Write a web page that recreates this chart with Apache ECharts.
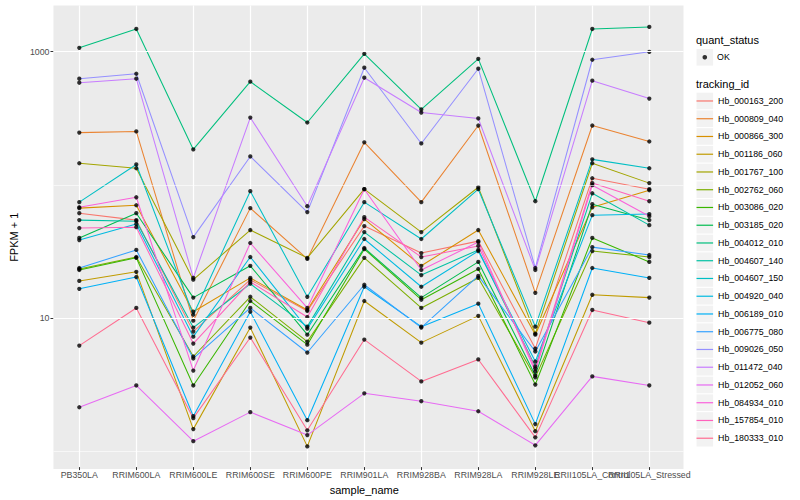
<!DOCTYPE html>
<html><head><meta charset="utf-8">
<script src="https://cdn.jsdelivr.net/npm/echarts@6/dist/echarts.min.js"></script>
<style>html,body{margin:0;padding:0;background:#fff}#chart{width:800px;height:500px}</style>
</head><body><div id="chart"></div>
<script>
// ---- data ----
const categories = ['PB350LA','RRIM600LA','RRIM600LE','RRIM600SE','RRIM600PE','RRIM901LA','RRIM928BA','RRIM928LA','RRIM928LE','RRII105LA_Control','RRII105LA_Stressed'];
const trackingIds = ['Hb_000163_200','Hb_000809_040','Hb_000866_300','Hb_001186_060','Hb_001767_100','Hb_002762_060','Hb_003086_020','Hb_003185_020','Hb_004012_010','Hb_004607_140','Hb_004607_150','Hb_004920_040','Hb_006189_010','Hb_006775_080','Hb_009026_050','Hb_011472_040','Hb_012052_060','Hb_084934_010','Hb_157854_010','Hb_180333_010'];
// FPKM + 1 per sample (order of categories)
const hb_000163_200 = [60.5, 53.7, 7.76, 19.1, 11.1, 48.4, 30.3, 37.3, 5.78, 111, 91.8];
const hb_000809_040 = [245, 250, 9.38, 66.1, 27.4, 207, 73.3, 277, 15.2, 277, 210];
const hb_000866_300 = [66.1, 69.5, 10.96, 19.7, 11.3, 54.6, 24.3, 45.2, 7.36, 67.1, 90.2];
const hb_001186_060 = [18.7, 21.9, 1.43, 8.32, 1.06, 13.2, 6.41, 10.2, 1.38, 14.7, 14.0];
const hb_001767_100 = [144, 132, 19.1, 45.2, 27.9, 91.8, 43.6, 95.0, 7.50, 144, 102];
const hb_002762_060 = [23.0, 28.3, 5.04, 14.2, 6.53, 27.9, 11.7, 19.7, 3.51, 31.4, 28.3];
const hb_003086_020 = [22.6, 27.9, 3.05, 13.2, 6.19, 32.5, 13.5, 23.0, 3.10, 39.4, 26.0];
const hb_003185_020 = [39.4, 60.5, 14.0, 24.3, 7.36, 33.1, 14.0, 26.0, 3.63, 70.8, 53.7];
const hb_004012_010 = [1066, 1479, 183, 593, 292, 961, 366, 881, 74.5, 1479, 1532];
const hb_004607_140 = [53.7, 52.7, 8.32, 17.8, 8.46, 43.6, 20.7, 32.0, 4.24, 85.5, 49.2];
const hb_004607_150 = [73.3, 141, 10.4, 88.7, 14.2, 73.3, 38.7, 91.8, 8.46, 154, 132];
const hb_004920_040 = [38.0, 50.1, 7.11, 28.3, 8.17, 38.7, 16.9, 31.4, 4.62, 58.5, 59.6];
const hb_006189_010 = [16.3, 20.0, 1.79, 10.96, 1.67, 16.9, 8.46, 12.6, 1.56, 23.4, 19.7];
const hb_006775_080 = [23.4, 32.0, 4.87, 11.7, 5.40, 17.5, 8.32, 20.4, 5.50, 33.6, 29.3];
const hb_009026_050 = [624, 680, 40.0, 162, 61.7, 755, 203, 742, 23.4, 867, 995];
const hb_011472_040 = [582, 624, 19.7, 318, 68.4, 635, 347, 313, 22.6, 603, 442];
const hb_012052_060 = [2.09, 3.05, 1.16, 1.92, 1.29, 2.66, 2.32, 1.95, 1.08, 3.57, 3.05];
const hb_084934_010 = [67.1, 79.8, 3.95, 36.1, 11.7, 91.8, 22.6, 36.7, 3.89, 98.4, 57.5];
const hb_157854_010 = [46.8, 47.5, 6.31, 18.4, 10.0, 56.5, 28.3, 34.3, 4.09, 102, 74.5];
const hb_180333_010 = [6.09, 11.7, 1.73, 7.00, 1.40, 6.76, 3.27, 4.79, 1.24, 11.3, 9.06];
const seriesValues = [hb_000163_200, hb_000809_040, hb_000866_300, hb_001186_060, hb_001767_100,
  hb_002762_060, hb_003086_020, hb_003185_020, hb_004012_010, hb_004607_140, hb_004607_150,
  hb_004920_040, hb_006189_010, hb_006775_080, hb_009026_050, hb_011472_040, hb_012052_060,
  hb_084934_010, hb_157854_010, hb_180333_010];
const yTickLabels = [10, 1000];     // major breaks (labelled)
const yMinorBreaks = [1, 100];      // minor breaks
const statusLabels = ['OK'];

// ---- style ----
const palette = ['#F8766D','#EA8331','#D89000','#C09B00','#A3A500','#7CAE00','#39B600','#00BB4E','#00BF7D','#00C1A3','#00BFC4','#00BAE0','#00B0F6','#35A2FF','#9590FF','#C77CFF','#E76BF3','#FA62DB','#FF62BC','#FF6C91'];
const font = '"Liberation Sans", Arial, Helvetica, sans-serif';
const yMin = 0.74, yMax = 2222;
const panel = {left: 45.1, top: 5.5, width: 638.4, height: 463.5};
const dataGrid = {left: 79.3, top: 5.5, width: 570, height: 463.5};
const legendTop = 92.1, legendStep = 17.75;

const chart = echarts.init(document.getElementById('chart'), null, {renderer: 'svg'});

const gridLineSeries = {
  name: '__grid', type: 'line', xAxisIndex: 0, yAxisIndex: 0,
  data: [[0, yTickLabels[0]]], showSymbol: false, symbol: 'none', lineStyle: {width: 0, opacity: 0},
  silent: true, animation: false, z: 0, legendHoverLink: false,
  markLine: {
    silent: true, symbol: ['none', 'none'], animation: false, label: {show: false},
    emphasis: {disabled: true},
    data: yMinorBreaks.map(v => ({yAxis: v, lineStyle: {color: '#fff', width: 0.6, type: 'solid'}}))
      .concat(yTickLabels.map(v => ({yAxis: v, lineStyle: {color: '#fff', width: 1.2, type: 'solid'}})))
  }
};

const lineSeries = trackingIds.map((id, k) => ({
  name: id, type: 'line', xAxisIndex: 1, yAxisIndex: 2,
  data: categories.map((c, i) => [c, seriesValues[k][i]]),
  showSymbol: false, symbol: 'none',
  lineStyle: {width: 1.05, color: palette[k]}, itemStyle: {color: palette[k]},
  silent: true, animation: false, z: 2, clip: false
}));
const pointSeries = {
  name: statusLabels[0], type: 'scatter', xAxisIndex: 1, yAxisIndex: 2,
  data: trackingIds.flatMap((id, k) => categories.map((c, i) => [c, seriesValues[k][i]])),
  symbol: 'circle', symbolSize: 4.3, itemStyle: {color: '#000'},
  z: 3, silent: true, animation: false, clip: false
};

const keyBoxes = [];
keyBoxes.push({type: 'rect', left: 696.5, top: 57.3 - 8.3, shape: {width: 16.6, height: 16.6}, style: {fill: '#F2F2F2'}, z: -1, silent: true});
trackingIds.forEach((id, k) => {
  keyBoxes.push({type: 'rect', left: 696.5, top: legendTop + k * legendStep + legendStep / 2 - 8.3,
    shape: {width: 16.6, height: 16.6}, style: {fill: '#F2F2F2'}, z: -1, silent: true});
});

chart.setOption({
  animation: false,
  backgroundColor: '#fff',
  color: palette,
  grid: [
    Object.assign({show: true, backgroundColor: '#EBEBEB', borderWidth: 0, containLabel: false}, panel),
    Object.assign({show: false, containLabel: false}, dataGrid)
  ],
  xAxis: [
    {gridIndex: 0, type: 'value', min: 0, max: 1, show: false},
    {gridIndex: 1, type: 'category', data: categories, boundaryGap: false,
     axisLine: {show: false},
     axisTick: {show: true, length: 3, interval: 0, lineStyle: {color: '#333', width: 1}},
     axisLabel: {interval: 0, fontSize: 8.8, color: '#4D4D4D', margin: 3, fontFamily: font, hideOverlap: false},
     splitLine: {show: true, interval: 0, lineStyle: {color: '#fff', width: 1.2}},
     name: 'sample_name', nameLocation: 'middle', nameGap: 9,
     nameTextStyle: {fontSize: 11, color: '#000', fontFamily: font}}
  ],
  yAxis: [
    {gridIndex: 0, type: 'log', logBase: 10, min: yMin, max: yMax, position: 'left',
     axisLine: {show: false},
     axisTick: {show: true, length: 3, customValues: yTickLabels, lineStyle: {color: '#333', width: 1}},
     axisLabel: {show: true, customValues: yTickLabels, fontSize: 8.8, color: '#4D4D4D', margin: 4,
       fontFamily: font, formatter: v => String(v)},
     splitLine: {show: false},
     name: 'FPKM + 1', nameLocation: 'middle', nameGap: 30, nameRotate: 90,
     nameTextStyle: {fontSize: 11, color: '#000', fontFamily: font}},
    {gridIndex: 1, type: 'log', logBase: 10, min: yMin, max: yMax, show: false, position: 'left'},
    {gridIndex: 1, type: 'log', logBase: 10, min: yMin, max: yMax, show: false, position: 'left'}
  ],
  legend: [
    {data: trackingIds, orient: 'vertical', left: 696.5, top: legendTop, padding: 0,
     icon: 'rect', itemWidth: 16.6, itemHeight: 1.2, itemGap: 0, selectedMode: false,
     textStyle: {fontSize: 8.8, color: '#000', fontFamily: font, lineHeight: legendStep}},
    {data: statusLabels, orient: 'vertical', left: 702.5, top: 57.3 - legendStep / 2, padding: 0,
     icon: 'circle', itemWidth: 4.6, itemHeight: 4.6, itemGap: 0, selectedMode: false,
     textStyle: {fontSize: 8.8, color: '#000', fontFamily: font, lineHeight: legendStep, padding: [0, 0, 0, 5]}}
  ],
  graphic: keyBoxes.concat([
    {type: 'text', left: 696, top: 34, style: {text: 'quant_status', font: '11px ' + font, fill: '#000'}, silent: true},
    {type: 'text', left: 696, top: 78.5, style: {text: 'tracking_id', font: '11px ' + font, fill: '#000'}, silent: true}
  ]),
  series: [gridLineSeries].concat(lineSeries, [pointSeries])
});
</script></body></html>
